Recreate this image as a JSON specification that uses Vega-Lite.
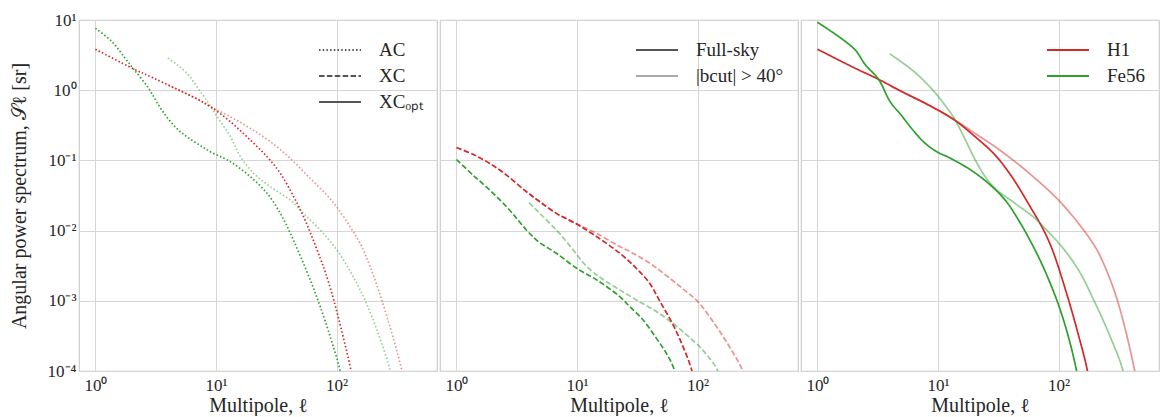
{
  "$schema": "https://vega.github.io/schema/vega-lite/v6.json",
  "background": "white",
  "padding": {"left": 8, "top": 10, "right": 0, "bottom": 0},
  "config": {
    "font": "Liberation Serif",
    "view": {"stroke": "#cccccc", "strokeWidth": 1.2},
    "concat": {"spacing": 1},
    "axis": {
      "grid": true, "gridColor": "#d6d6d6", "gridWidth": 1,
      "domain": false, "ticks": false,
      "labelFont": "Liberation Serif", "labelFontSize": 17, "labelColor": "#262626", "labelPadding": 3,
      "titleFont": "Liberation Serif", "titleFontSize": 20, "titleFontWeight": "normal", "titleColor": "#262626"
    },
    "legend": {
      "orient": "top-right", "offset": 14, "padding": 0,
      "labelFont": "Liberation Serif", "labelFontSize": 19, "labelColor": "#262626",
      "symbolType": "M-1.4,0H1.4", "symbolSize": 900, "symbolStrokeWidth": 1.8,
      "labelOffset": 23, "rowPadding": 0
    }
  },
  "datasets": {
    "d": [
      {"panel":"AC","species":"H1","sky":"full","l":1,"S":3.83},
      {"panel":"AC","species":"H1","sky":"full","l":2.07,"S":2.01},
      {"panel":"AC","species":"H1","sky":"full","l":3,"S":1.5},
      {"panel":"AC","species":"H1","sky":"full","l":4.87,"S":1.01},
      {"panel":"AC","species":"H1","sky":"full","l":7,"S":0.745},
      {"panel":"AC","species":"H1","sky":"full","l":9.03,"S":0.579},
      {"panel":"AC","species":"H1","sky":"full","l":13.2,"S":0.354},
      {"panel":"AC","species":"H1","sky":"full","l":19.3,"S":0.194},
      {"panel":"AC","species":"H1","sky":"full","l":26.6,"S":0.112},
      {"panel":"AC","species":"H1","sky":"full","l":34.2,"S":0.065},
      {"panel":"AC","species":"H1","sky":"full","l":44.1,"S":0.0303},
      {"panel":"AC","species":"H1","sky":"full","l":53.3,"S":0.0157},
      {"panel":"AC","species":"H1","sky":"full","l":62.5,"S":0.00814},
      {"panel":"AC","species":"H1","sky":"full","l":73.3,"S":0.004},
      {"panel":"AC","species":"H1","sky":"full","l":80.5,"S":0.00257},
      {"panel":"AC","species":"H1","sky":"full","l":95,"S":0.001},
      {"panel":"AC","species":"H1","sky":"full","l":132,"S":0.0001},
      {"panel":"AC","species":"H1","sky":"full","l":150,"S":0.000032},
      {"panel":"AC","species":"H1","sky":"cut","l":4,"S":1.19},
      {"panel":"AC","species":"H1","sky":"cut","l":7,"S":0.745},
      {"panel":"AC","species":"H1","sky":"cut","l":9.03,"S":0.579},
      {"panel":"AC","species":"H1","sky":"cut","l":13.2,"S":0.417},
      {"panel":"AC","species":"H1","sky":"cut","l":19.3,"S":0.284},
      {"panel":"AC","species":"H1","sky":"cut","l":28.3,"S":0.184},
      {"panel":"AC","species":"H1","sky":"cut","l":41.4,"S":0.106},
      {"panel":"AC","species":"H1","sky":"cut","l":60.5,"S":0.0552},
      {"panel":"AC","species":"H1","sky":"cut","l":83.2,"S":0.0319},
      {"panel":"AC","species":"H1","sky":"cut","l":100,"S":0.0218},
      {"panel":"AC","species":"H1","sky":"cut","l":129.6,"S":0.0113},
      {"panel":"AC","species":"H1","sky":"cut","l":157,"S":0.00654},
      {"panel":"AC","species":"H1","sky":"cut","l":190,"S":0.00304},
      {"panel":"AC","species":"H1","sky":"cut","l":238,"S":0.001},
      {"panel":"AC","species":"H1","sky":"cut","l":348,"S":0.0001},
      {"panel":"AC","species":"H1","sky":"cut","l":400,"S":0.000025},
      {"panel":"AC","species":"Fe56","sky":"full","l":1,"S":7.6},
      {"panel":"AC","species":"Fe56","sky":"full","l":1.37,"S":4.92},
      {"panel":"AC","species":"Fe56","sky":"full","l":1.76,"S":2.85},
      {"panel":"AC","species":"Fe56","sky":"full","l":2.07,"S":2.01},
      {"panel":"AC","species":"Fe56","sky":"full","l":2.75,"S":1.07},
      {"panel":"AC","species":"Fe56","sky":"full","l":3.33,"S":0.618},
      {"panel":"AC","species":"Fe56","sky":"full","l":4.03,"S":0.385},
      {"panel":"AC","species":"Fe56","sky":"full","l":4.87,"S":0.272},
      {"panel":"AC","species":"Fe56","sky":"full","l":5.9,"S":0.21},
      {"panel":"AC","species":"Fe56","sky":"full","l":7.61,"S":0.158},
      {"panel":"AC","species":"Fe56","sky":"full","l":9.03,"S":0.132},
      {"panel":"AC","species":"Fe56","sky":"full","l":13.2,"S":0.0953},
      {"panel":"AC","species":"Fe56","sky":"full","l":19.3,"S":0.0583},
      {"panel":"AC","species":"Fe56","sky":"full","l":26.6,"S":0.0337},
      {"panel":"AC","species":"Fe56","sky":"full","l":34.2,"S":0.0175},
      {"panel":"AC","species":"Fe56","sky":"full","l":41.4,"S":0.00908},
      {"panel":"AC","species":"Fe56","sky":"full","l":50.1,"S":0.0043},
      {"panel":"AC","species":"Fe56","sky":"full","l":62,"S":0.00177},
      {"panel":"AC","species":"Fe56","sky":"full","l":73.3,"S":0.000817},
      {"panel":"AC","species":"Fe56","sky":"full","l":90,"S":0.000282},
      {"panel":"AC","species":"Fe56","sky":"full","l":107,"S":0.0001},
      {"panel":"AC","species":"Fe56","sky":"full","l":120,"S":0.000032},
      {"panel":"AC","species":"Fe56","sky":"cut","l":3.98,"S":2.85},
      {"panel":"AC","species":"Fe56","sky":"cut","l":4.87,"S":2.24},
      {"panel":"AC","species":"Fe56","sky":"cut","l":5.9,"S":1.65},
      {"panel":"AC","species":"Fe56","sky":"cut","l":6.92,"S":1.13},
      {"panel":"AC","species":"Fe56","sky":"cut","l":8.11,"S":0.769},
      {"panel":"AC","species":"Fe56","sky":"cut","l":10.4,"S":0.4},
      {"panel":"AC","species":"Fe56","sky":"cut","l":13.2,"S":0.216},
      {"panel":"AC","species":"Fe56","sky":"cut","l":16,"S":0.112},
      {"panel":"AC","species":"Fe56","sky":"cut","l":20.6,"S":0.065},
      {"panel":"AC","species":"Fe56","sky":"cut","l":28.3,"S":0.042},
      {"panel":"AC","species":"Fe56","sky":"cut","l":41.4,"S":0.0271},
      {"panel":"AC","species":"Fe56","sky":"cut","l":53.3,"S":0.0175},
      {"panel":"AC","species":"Fe56","sky":"cut","l":73.3,"S":0.0101},
      {"panel":"AC","species":"Fe56","sky":"cut","l":100,"S":0.00537},
      {"panel":"AC","species":"Fe56","sky":"cut","l":134,"S":0.00237},
      {"panel":"AC","species":"Fe56","sky":"cut","l":173,"S":0.001},
      {"panel":"AC","species":"Fe56","sky":"cut","l":223,"S":0.00033},
      {"panel":"AC","species":"Fe56","sky":"cut","l":279,"S":0.0001},
      {"panel":"AC","species":"Fe56","sky":"cut","l":310,"S":0.00004},

      {"panel":"XC","species":"H1","sky":"full","l":1,"S":0.153},
      {"panel":"XC","species":"H1","sky":"full","l":1.37,"S":0.122},
      {"panel":"XC","species":"H1","sky":"full","l":1.89,"S":0.0906},
      {"panel":"XC","species":"H1","sky":"full","l":2.6,"S":0.0618},
      {"panel":"XC","species":"H1","sky":"full","l":3.8,"S":0.0358},
      {"panel":"XC","species":"H1","sky":"full","l":4.91,"S":0.0258},
      {"panel":"XC","species":"H1","sky":"full","l":6.74,"S":0.0176},
      {"panel":"XC","species":"H1","sky":"full","l":10,"S":0.0123},
      {"panel":"XC","species":"H1","sky":"full","l":14.5,"S":0.00822},
      {"panel":"XC","species":"H1","sky":"full","l":22.6,"S":0.00476},
      {"panel":"XC","species":"H1","sky":"full","l":31,"S":0.00291},
      {"panel":"XC","species":"H1","sky":"full","l":40,"S":0.00178},
      {"panel":"XC","species":"H1","sky":"full","l":48.4,"S":0.001},
      {"panel":"XC","species":"H1","sky":"full","l":62.5,"S":0.000457},
      {"panel":"XC","species":"H1","sky":"full","l":75.5,"S":0.000224},
      {"panel":"XC","species":"H1","sky":"full","l":89.2,"S":0.000104},
      {"panel":"XC","species":"H1","sky":"full","l":100,"S":0.00004},
      {"panel":"XC","species":"H1","sky":"cut","l":4,"S":0.0336},
      {"panel":"XC","species":"H1","sky":"cut","l":6.74,"S":0.0176},
      {"panel":"XC","species":"H1","sky":"cut","l":10,"S":0.0124},
      {"panel":"XC","species":"H1","sky":"cut","l":14.5,"S":0.00916},
      {"panel":"XC","species":"H1","sky":"cut","l":22.6,"S":0.00593},
      {"panel":"XC","species":"H1","sky":"cut","l":29.1,"S":0.00476},
      {"panel":"XC","species":"H1","sky":"cut","l":40,"S":0.00344},
      {"panel":"XC","species":"H1","sky":"cut","l":55,"S":0.00229},
      {"panel":"XC","species":"H1","sky":"cut","l":75.5,"S":0.00148},
      {"panel":"XC","species":"H1","sky":"cut","l":100,"S":0.00098},
      {"panel":"XC","species":"H1","sky":"cut","l":143,"S":0.000432},
      {"panel":"XC","species":"H1","sky":"cut","l":190,"S":0.000201},
      {"panel":"XC","species":"H1","sky":"cut","l":234,"S":0.000104},
      {"panel":"XC","species":"H1","sky":"cut","l":260,"S":0.00005},
      {"panel":"XC","species":"Fe56","sky":"full","l":1,"S":0.103},
      {"panel":"XC","species":"Fe56","sky":"full","l":1.37,"S":0.0618},
      {"panel":"XC","species":"Fe56","sky":"full","l":1.89,"S":0.0378},
      {"panel":"XC","species":"Fe56","sky":"full","l":2.6,"S":0.0219},
      {"panel":"XC","species":"Fe56","sky":"full","l":3.2,"S":0.0145},
      {"panel":"XC","species":"Fe56","sky":"full","l":3.8,"S":0.0102},
      {"panel":"XC","species":"Fe56","sky":"full","l":4.4,"S":0.0079},
      {"panel":"XC","species":"Fe56","sky":"full","l":4.91,"S":0.0067},
      {"panel":"XC","species":"Fe56","sky":"full","l":6.74,"S":0.00476},
      {"panel":"XC","species":"Fe56","sky":"full","l":10,"S":0.00288},
      {"panel":"XC","species":"Fe56","sky":"full","l":14.5,"S":0.00199},
      {"panel":"XC","species":"Fe56","sky":"full","l":22.6,"S":0.00115},
      {"panel":"XC","species":"Fe56","sky":"full","l":27.3,"S":0.00083},
      {"panel":"XC","species":"Fe56","sky":"full","l":35.2,"S":0.000537},
      {"panel":"XC","species":"Fe56","sky":"full","l":45.4,"S":0.000294},
      {"panel":"XC","species":"Fe56","sky":"full","l":54.9,"S":0.00018},
      {"panel":"XC","species":"Fe56","sky":"full","l":63.7,"S":0.000107},
      {"panel":"XC","species":"Fe56","sky":"full","l":70,"S":0.00005},
      {"panel":"XC","species":"Fe56","sky":"cut","l":4,"S":0.025},
      {"panel":"XC","species":"Fe56","sky":"cut","l":4.91,"S":0.0176},
      {"panel":"XC","species":"Fe56","sky":"cut","l":6.74,"S":0.0102},
      {"panel":"XC","species":"Fe56","sky":"cut","l":8.16,"S":0.00698},
      {"panel":"XC","species":"Fe56","sky":"cut","l":10,"S":0.00451},
      {"panel":"XC","species":"Fe56","sky":"cut","l":11.9,"S":0.00315},
      {"panel":"XC","species":"Fe56","sky":"cut","l":14.5,"S":0.00234},
      {"panel":"XC","species":"Fe56","sky":"cut","l":17.5,"S":0.00188},
      {"panel":"XC","species":"Fe56","sky":"cut","l":22.6,"S":0.00143},
      {"panel":"XC","species":"Fe56","sky":"cut","l":31,"S":0.00103},
      {"panel":"XC","species":"Fe56","sky":"cut","l":45.4,"S":0.000705},
      {"panel":"XC","species":"Fe56","sky":"cut","l":64.4,"S":0.000456},
      {"panel":"XC","species":"Fe56","sky":"cut","l":80.5,"S":0.000329},
      {"panel":"XC","species":"Fe56","sky":"cut","l":100,"S":0.000237},
      {"panel":"XC","species":"Fe56","sky":"cut","l":121.8,"S":0.000162},
      {"panel":"XC","species":"Fe56","sky":"cut","l":145.5,"S":0.000104},
      {"panel":"XC","species":"Fe56","sky":"cut","l":160,"S":0.00005},

      {"panel":"XCopt","species":"H1","sky":"full","l":1,"S":3.83},
      {"panel":"XCopt","species":"H1","sky":"full","l":2,"S":2.1},
      {"panel":"XCopt","species":"H1","sky":"full","l":3.21,"S":1.43},
      {"panel":"XCopt","species":"H1","sky":"full","l":5,"S":0.955},
      {"panel":"XCopt","species":"H1","sky":"full","l":8.4,"S":0.611},
      {"panel":"XCopt","species":"H1","sky":"full","l":13.5,"S":0.382},
      {"panel":"XCopt","species":"H1","sky":"full","l":20.4,"S":0.216},
      {"panel":"XCopt","species":"H1","sky":"full","l":29.8,"S":0.1186},
      {"panel":"XCopt","species":"H1","sky":"full","l":41,"S":0.0582},
      {"panel":"XCopt","species":"H1","sky":"full","l":56.3,"S":0.024},
      {"panel":"XCopt","species":"H1","sky":"full","l":75.1,"S":0.01014},
      {"panel":"XCopt","species":"H1","sky":"full","l":88.1,"S":0.0055},
      {"panel":"XCopt","species":"H1","sky":"full","l":100,"S":0.00295},
      {"panel":"XCopt","species":"H1","sky":"full","l":126.5,"S":0.00079},
      {"panel":"XCopt","species":"H1","sky":"full","l":143.5,"S":0.000363},
      {"panel":"XCopt","species":"H1","sky":"full","l":171.5,"S":0.00011},
      {"panel":"XCopt","species":"H1","sky":"full","l":190,"S":0.00004},
      {"panel":"XCopt","species":"H1","sky":"cut","l":4,"S":1.156},
      {"panel":"XCopt","species":"H1","sky":"cut","l":8.4,"S":0.611},
      {"panel":"XCopt","species":"H1","sky":"cut","l":13.5,"S":0.385},
      {"panel":"XCopt","species":"H1","sky":"cut","l":20.4,"S":0.241},
      {"panel":"XCopt","species":"H1","sky":"cut","l":29.8,"S":0.156},
      {"panel":"XCopt","species":"H1","sky":"cut","l":43.7,"S":0.0953},
      {"panel":"XCopt","species":"H1","sky":"cut","l":64.1,"S":0.0552},
      {"panel":"XCopt","species":"H1","sky":"cut","l":100,"S":0.0271},
      {"panel":"XCopt","species":"H1","sky":"cut","l":146.5,"S":0.0126},
      {"panel":"XCopt","species":"H1","sky":"cut","l":201,"S":0.00586},
      {"panel":"XCopt","species":"H1","sky":"cut","l":236,"S":0.0034},
      {"panel":"XCopt","species":"H1","sky":"cut","l":308,"S":0.001},
      {"panel":"XCopt","species":"H1","sky":"cut","l":428,"S":0.0001},
      {"panel":"XCopt","species":"H1","sky":"cut","l":480,"S":0.00003},
      {"panel":"XCopt","species":"Fe56","sky":"full","l":1,"S":9.27},
      {"panel":"XCopt","species":"Fe56","sky":"full","l":2.02,"S":3.87},
      {"panel":"XCopt","species":"Fe56","sky":"full","l":2.5,"S":2.29},
      {"panel":"XCopt","species":"Fe56","sky":"full","l":3.21,"S":1.43},
      {"panel":"XCopt","species":"Fe56","sky":"full","l":4,"S":0.69},
      {"panel":"XCopt","species":"Fe56","sky":"full","l":4.92,"S":0.446},
      {"panel":"XCopt","species":"Fe56","sky":"full","l":6.33,"S":0.258},
      {"panel":"XCopt","species":"Fe56","sky":"full","l":7.91,"S":0.172},
      {"panel":"XCopt","species":"Fe56","sky":"full","l":10,"S":0.13},
      {"panel":"XCopt","species":"Fe56","sky":"full","l":12.3,"S":0.11},
      {"panel":"XCopt","species":"Fe56","sky":"full","l":17.9,"S":0.0766},
      {"panel":"XCopt","species":"Fe56","sky":"full","l":26.3,"S":0.0468},
      {"panel":"XCopt","species":"Fe56","sky":"full","l":36.1,"S":0.0271},
      {"panel":"XCopt","species":"Fe56","sky":"full","l":46.6,"S":0.01406},
      {"panel":"XCopt","species":"Fe56","sky":"full","l":56.3,"S":0.00794},
      {"panel":"XCopt","species":"Fe56","sky":"full","l":72.8,"S":0.00331},
      {"panel":"XCopt","species":"Fe56","sky":"full","l":98,"S":0.000955},
      {"panel":"XCopt","species":"Fe56","sky":"full","l":120,"S":0.000316},
      {"panel":"XCopt","species":"Fe56","sky":"full","l":141,"S":0.0001},
      {"panel":"XCopt","species":"Fe56","sky":"full","l":160,"S":0.00003},
      {"panel":"XCopt","species":"Fe56","sky":"cut","l":3.98,"S":3.29},
      {"panel":"XCopt","species":"Fe56","sky":"cut","l":6.33,"S":1.84},
      {"panel":"XCopt","species":"Fe56","sky":"cut","l":9.27,"S":0.957},
      {"panel":"XCopt","species":"Fe56","sky":"cut","l":11.9,"S":0.555},
      {"panel":"XCopt","species":"Fe56","sky":"cut","l":13.6,"S":0.4},
      {"panel":"XCopt","species":"Fe56","sky":"cut","l":16.9,"S":0.194},
      {"panel":"XCopt","species":"Fe56","sky":"cut","l":20.4,"S":0.1007},
      {"panel":"XCopt","species":"Fe56","sky":"cut","l":24.7,"S":0.0583},
      {"panel":"XCopt","species":"Fe56","sky":"cut","l":29.8,"S":0.0397},
      {"panel":"XCopt","species":"Fe56","sky":"cut","l":43.7,"S":0.0243},
      {"panel":"XCopt","species":"Fe56","sky":"cut","l":64.1,"S":0.01486},
      {"panel":"XCopt","species":"Fe56","sky":"cut","l":75.1,"S":0.0113},
      {"panel":"XCopt","species":"Fe56","sky":"cut","l":106.6,"S":0.00586},
      {"panel":"XCopt","species":"Fe56","sky":"cut","l":146.5,"S":0.00273},
      {"panel":"XCopt","species":"Fe56","sky":"cut","l":197,"S":0.001},
      {"panel":"XCopt","species":"Fe56","sky":"cut","l":270,"S":0.000298},
      {"panel":"XCopt","species":"Fe56","sky":"cut","l":342,"S":0.0001},
      {"panel":"XCopt","species":"Fe56","sky":"cut","l":380,"S":0.00003}
    ]
  },
  "data": {"name": "d"},
  "resolve": {
    "scale": {"color": "independent", "opacity": "independent", "strokeDash": "independent"},
    "legend": {"color": "independent", "opacity": "independent", "strokeDash": "independent"}
  },
  "hconcat": [
    {
      "width": 358, "height": 351,
      "transform": [{"filter": "datum.panel === 'AC'"}],
      "mark": {"type": "line", "clip": true, "strokeWidth": 1.7, "interpolate": "catmull-rom"},
      "encoding": {
        "x": {"field": "l", "type": "quantitative",
              "scale": {"type": "log", "domain": [0.73, 680], "nice": false},
              "axis": {"values": [1, 10, 100], "title": "Multipole, ℓ", "titlePadding": 2, "labelPadding": 6,
                       "labelExpr": "'10' + ['⁰','¹','²','³'][round(log(datum.value)/LN10)]"}},
        "y": {"field": "S", "type": "quantitative",
              "scale": {"type": "log", "domain": [0.0001, 10], "nice": false},
              "axis": {"values": [0.0001, 0.001, 0.01, 0.1, 1, 10], "title": "Angular power spectrum, 𝒮ℓ [sr]", "titlePadding": 18,
                       "labelExpr": "'10' + (datum.value < 0.5 ? '⁻' : '') + ['⁰','¹','²','³','⁴'][abs(round(log(datum.value)/LN10))]"}},
        "color": {"field": "species", "type": "nominal",
                  "scale": {"domain": ["H1", "Fe56"], "range": ["#d62728", "#2ca02c"]}, "legend": null},
        "opacity": {"field": "sky", "type": "ordinal",
                    "scale": {"domain": ["full", "cut"], "range": [1, 0.5]}, "legend": null},
        "strokeDash": {"field": "panel", "type": "nominal",
                       "scale": {"domain": ["AC", "XC", "XCopt"], "range": [[1.5, 2.2], [5.5, 2.4], [1, 0]]},
                       "legend": {"title": null, "symbolStrokeColor": "#555555",
                                  "labelExpr": "datum.label === 'XCopt' ? 'XCₒₚₜ' : datum.label"}}
      }
    },
    {
      "width": 358, "height": 351,
      "transform": [{"filter": "datum.panel === 'XC'"}],
      "mark": {"type": "line", "clip": true, "strokeWidth": 1.7, "interpolate": "catmull-rom"},
      "encoding": {
        "x": {"field": "l", "type": "quantitative",
              "scale": {"type": "log", "domain": [0.73, 680], "nice": false},
              "axis": {"values": [1, 10, 100], "title": "Multipole, ℓ", "titlePadding": 2, "labelPadding": 6,
                       "labelExpr": "'10' + ['⁰','¹','²','³'][round(log(datum.value)/LN10)]"}},
        "y": {"field": "S", "type": "quantitative",
              "scale": {"type": "log", "domain": [0.0001, 10], "nice": false},
              "axis": {"values": [0.0001, 0.001, 0.01, 0.1, 1, 10], "labels": false, "title": null}},
        "color": {"field": "species", "type": "nominal",
                  "scale": {"domain": ["H1", "Fe56"], "range": ["#d62728", "#2ca02c"]}, "legend": null},
        "opacity": {"field": "sky", "type": "ordinal",
                    "scale": {"domain": ["full", "cut"], "range": [1, 0.5]},
                    "legend": {"title": null, "symbolStrokeColor": "#555555",
                               "labelExpr": "datum.label === 'full' ? 'Full-sky' : '|bcut| > 40°'"}},
        "strokeDash": {"field": "panel", "type": "nominal",
                       "scale": {"domain": ["AC", "XC", "XCopt"], "range": [[1.5, 2.2], [5.5, 2.4], [1, 0]]}, "legend": null}
      }
    },
    {
      "width": 358, "height": 351,
      "transform": [{"filter": "datum.panel === 'XCopt'"}],
      "mark": {"type": "line", "clip": true, "strokeWidth": 1.7, "interpolate": "catmull-rom"},
      "encoding": {
        "x": {"field": "l", "type": "quantitative",
              "scale": {"type": "log", "domain": [0.73, 680], "nice": false},
              "axis": {"values": [1, 10, 100], "title": "Multipole, ℓ", "titlePadding": 2, "labelPadding": 6,
                       "labelExpr": "'10' + ['⁰','¹','²','³'][round(log(datum.value)/LN10)]"}},
        "y": {"field": "S", "type": "quantitative",
              "scale": {"type": "log", "domain": [0.0001, 10], "nice": false},
              "axis": {"values": [0.0001, 0.001, 0.01, 0.1, 1, 10], "labels": false, "title": null}},
        "color": {"field": "species", "type": "nominal",
                  "scale": {"domain": ["H1", "Fe56"], "range": ["#d62728", "#2ca02c"]},
                  "legend": {"title": null}},
        "opacity": {"field": "sky", "type": "ordinal",
                    "scale": {"domain": ["full", "cut"], "range": [1, 0.5]}, "legend": null},
        "strokeDash": {"field": "panel", "type": "nominal",
                       "scale": {"domain": ["AC", "XC", "XCopt"], "range": [[1.5, 2.2], [5.5, 2.4], [1, 0]]}, "legend": null}
      }
    }
  ]
}
